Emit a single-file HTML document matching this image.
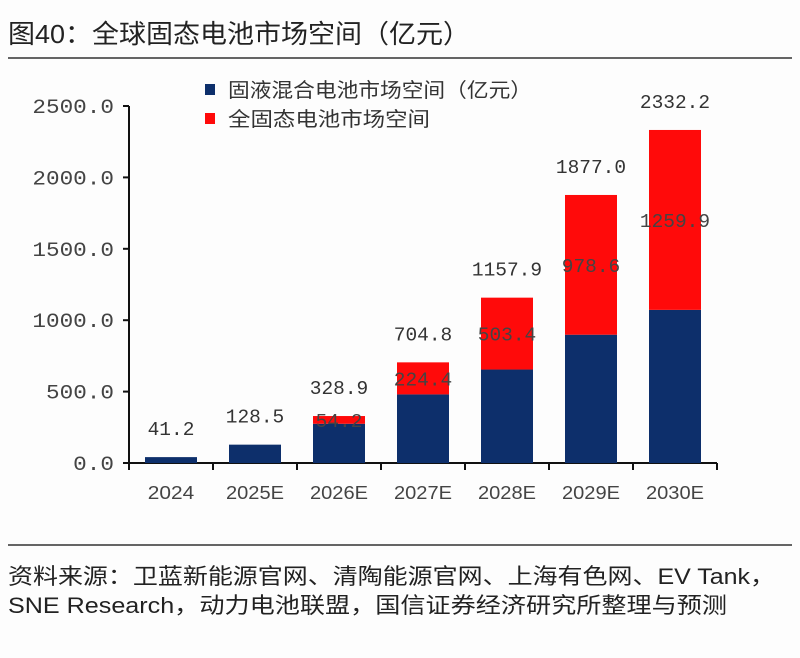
<!DOCTYPE html>
<html><head><meta charset="utf-8"><style>
html,body{margin:0;padding:0;background:#fff;}
svg{display:block;font-family:"Liberation Sans","Noto Sans CJK SC",sans-serif;}
</style></head><body>
<svg id="c" width="800" height="658" viewBox="0 0 800 658">
<rect width="800" height="658" fill="#fdfdfd"/>
<text x="8" y="43" font-size="26" fill="#222" textLength="462" lengthAdjust="spacingAndGlyphs">图40：全球固态电池市场空间（亿元）</text>
<line x1="8" y1="58" x2="792" y2="58" stroke="#333" stroke-width="1.5"/>
<rect x="205" y="84" width="10" height="11" fill="#0d2f6b"/>
<text x="228" y="97" font-size="20" fill="#333" textLength="304" lengthAdjust="spacingAndGlyphs">固液混合电池市场空间（亿元）</text>
<rect x="205" y="113" width="10" height="11" fill="#ff0a0a"/>
<text x="228" y="126" font-size="20" fill="#333" textLength="202" lengthAdjust="spacingAndGlyphs">全固态电池市场空间</text>
<g id="plot"></g>
<line x1="8" y1="545" x2="792" y2="545" stroke="#333" stroke-width="1.5"/>
<text x="8" y="584" font-size="22" fill="#222" textLength="767" lengthAdjust="spacingAndGlyphs">资料来源：卫蓝新能源官网、清陶能源官网、上海有色网、EV Tank，</text>
<text x="8" y="613" font-size="22" fill="#222" textLength="719" lengthAdjust="spacingAndGlyphs">SNE Research，动力电池联盟，国信证券经济研究所整理与预测</text>
</svg>
<script>
const categories = ["2024","2025E","2026E","2027E","2028E","2029E","2030E"];
const totals = [41.2,128.5,328.9,704.8,1157.9,1877.0,2332.2];
const solidState = [0,0,54.2,224.4,503.4,978.6,1259.9];
const yTicks = [0,500,1000,1500,2000,2500];
const yTickLabels = ["0.0","500.0","1000.0","1500.0","2000.0","2500.0"];

const NS="http://www.w3.org/2000/svg";
const g=document.getElementById('plot');
const x0=129, step=84, y0=463, yMax=2500, yTop=106, bw=52;
const Y=v=>y0-(v/yMax)*(y0-yTop);
const X=i=>x0+step*(i+0.5);
function mk(t,a){const e=document.createElementNS(NS,t);for(const k in a)e.setAttribute(k,a[k]);g.appendChild(e);return e;}
const MONO='"Liberation Mono",monospace';

let ax=mk('line',{x1:x0,y1:yTop,x2:x0,y2:y0,stroke:'#111','stroke-width':2});


let xa=mk('line',{x1:x0,y1:y0,x2:x0+step*categories.length,y2:y0,stroke:'#111','stroke-width':2});



yTicks.forEach((v,i)=>{
  const y=Y(v);
  const t=mk('line',{x1:x0-6,y1:y,x2:x0,y2:y,stroke:'#111','stroke-width':2});
  
  
  const s=yTickLabels[i];
  const lb=mk('text',{x:114,y:y+7,'font-size':20,fill:'#444','text-anchor':'end','font-family':MONO,textLength:s.length*13.6,lengthAdjust:'spacingAndGlyphs'});
  lb.textContent=s;
  
  
});
for(let i=0;i<=categories.length;i++){
  const t=mk('line',{x1:x0+step*i,y1:y0,x2:x0+step*i,y2:y0+7,stroke:'#111','stroke-width':2});
  
  
}
categories.forEach((c,i)=>{
  const cx=X(i), tot=totals[i], ss=solidState[i], hy=tot-ss;
  const b=mk('rect',{x:cx-bw/2,y:Y(hy),width:bw,height:y0-Y(hy),fill:'#0d2f6b'});
  
  
  if(ss>0){
    const r=mk('rect',{x:cx-bw/2,y:Y(tot),width:bw,height:Y(hy)-Y(tot),fill:'#ff0a0a'});
    
    
    const s=ss.toFixed(1);
    const rl=mk('text',{x:cx,y:(Y(tot)+Y(hy))/2+7,'font-size':19,fill:'#444','text-anchor':'middle','font-family':MONO,textLength:s.length*11.7,lengthAdjust:'spacingAndGlyphs'});
    rl.textContent=s;
    
    
  }
  const s2=tot.toFixed(1);
  const tl=mk('text',{x:cx,y:Y(tot)-22,'font-size':19,fill:'#333','text-anchor':'middle','font-family':MONO,textLength:s2.length*11.7,lengthAdjust:'spacingAndGlyphs'});
  tl.textContent=s2;
  
  
  const xl=mk('text',{x:cx,y:499,'font-size':18,fill:'#444','text-anchor':'middle',textLength:c.length*11.6,lengthAdjust:'spacingAndGlyphs'});
  xl.textContent=c;
  
  
});
</script>
</body></html>
